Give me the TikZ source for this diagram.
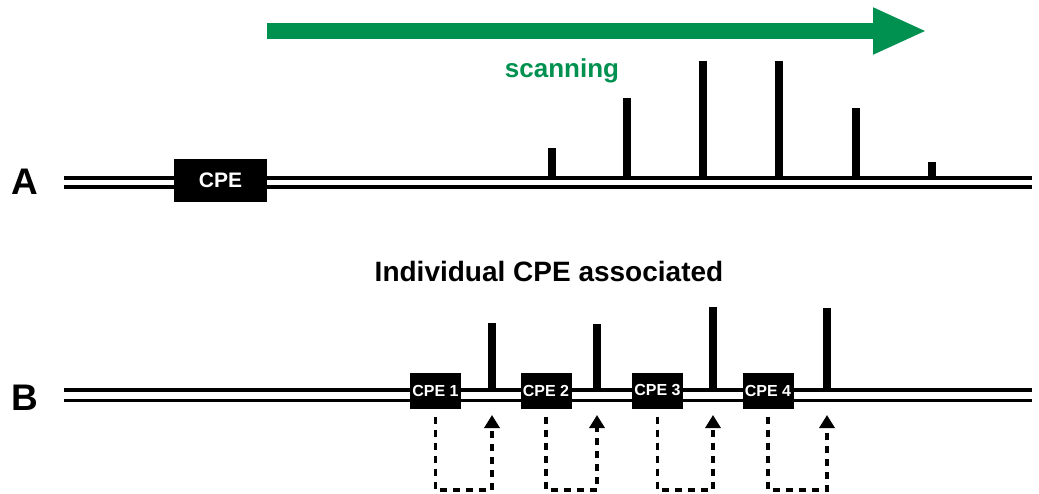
\documentclass[tikz,border=0pt]{standalone}
\usepackage{fontspec}
\setmainfont{Liberation Sans}
\usetikzlibrary{arrows.meta}
\definecolor{scangreen}{RGB}{0,145,80}

\begin{document}
\begin{tikzpicture}[x=1pt,y=-1pt,
    strand/.style={line width=3.5pt,double,double distance=5.5pt},
    peak/.style={line width=7.5pt},
    cpebox/.style={fill=black,text=white,inner sep=0pt,
      font=\bfseries\fontsize{16}{16}\selectfont,
      minimum width=51pt,minimum height=36pt},
    dashlink/.style={line width=3.6pt,dash pattern=on 7pt off 6pt},
    rowlabel/.style={font=\bfseries\fontsize{37}{37}\selectfont,anchor=base west}]
  \useasboundingbox (0,0) rectangle (1039,494);

  % scanning direction
  \coordinate (s0) at (267,31);
  \coordinate (s1) at (927,31);
  \draw[scangreen,line width=16pt,
    -{Triangle[length=54pt,width=43pt]}] (s0) -- (s1);
  \node[scangreen,anchor=base,font=\bfseries\fontsize{26}{26}\selectfont]
    (scan) at (562,78) {scanning};

  % A: single element, peaks along the strand
  \node[rowlabel] (A) at (8,195) {A};
  \draw[strand] (64,182.5) -- (1032,182.5);
  \foreach \x/\h in {552/148,627/98,703/61,779/61,856/108,932/162}
    \draw[peak] (\x,178) -- (\x,\h);
  \node[cpebox,minimum width=93pt,minimum height=43pt,
    font=\bfseries\fontsize{21}{21}\selectfont] (cpe) at (220.5,180.5) {CPE};

  % B: one element per peak
  \node[anchor=base,font=\bfseries\fontsize{28}{28}\selectfont]
    (title) at (549,282) {Individual CPE associated};
  \node[rowlabel] (B) at (8,410) {B};
  \draw[strand,double distance=7pt] (64,395.25) -- (1032,395.25);
  \foreach \i/\cx/\px/\ph in {1/435.5/492/323,2/546/597/324,
                              3/657.5/713/307,4/768/827/308}{
    \coordinate (p\i) at (\px,390);
    \coordinate (q\i) at (\px,490);
    \draw[peak] (p\i) -- (\px,\ph);
    \node[cpebox] (cpe\i) at (\cx,390.5) {CPE \i};
    \draw[dashlink,-{Triangle[length=13pt,width=15pt]}]
      ([yshift=-8pt]cpe\i.south) |- (q\i) -- ([yshift=-25pt]p\i);
  }
\end{tikzpicture}
\end{document}
